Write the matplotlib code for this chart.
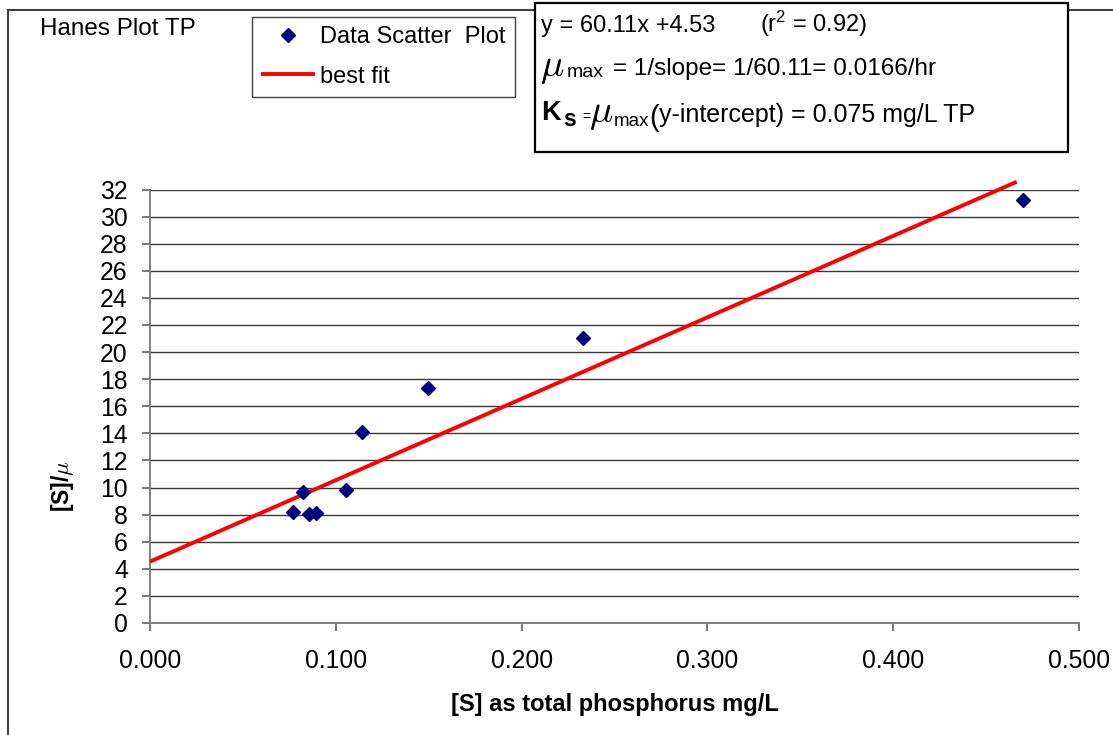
import matplotlib
matplotlib.use("Agg")
import matplotlib.pyplot as plt
from matplotlib.patches import Rectangle
from matplotlib.lines import Line2D

plt.rcParams['font.family'] = ['Liberation Sans', 'DejaVu Sans']
plt.rcParams['mathtext.fontset'] = 'custom'
plt.rcParams['mathtext.rm'] = 'Liberation Sans'
plt.rcParams['mathtext.it'] = 'Liberation Sans:italic'
plt.rcParams['mathtext.bf'] = 'Liberation Sans:bold'

# Hanes linearisation for total phosphorus: [S] vs [S]/mu
s_tp = [0.0771, 0.0825, 0.0857, 0.0893, 0.1053, 0.1139, 0.1495, 0.2330, 0.4700]
s_over_mu = [8.16, 9.68, 8.04, 8.13, 9.81, 14.11, 17.35, 21.02, 31.19]

# least-squares line reported for the data
slope = 60.11
intercept = 4.53
r_squared = 0.92
fit_x = [0.0, 0.4665]

mu_max = 1.0 / slope
k_s = mu_max * intercept

x_ticks = [0.0, 0.1, 0.2, 0.3, 0.4, 0.5]
x_tick_labels = ['0.000', '0.100', '0.200', '0.300', '0.400', '0.500']
y_ticks = list(range(0, 33, 2))

W, H = 1113, 735
fig = plt.figure(figsize=(W / 100, H / 100), dpi=100)


def fx(px):
    return px / W


def fy(py):
    return 1 - py / H


ax = fig.add_axes([fx(150), fy(623), fx(1079) - fx(150), fy(189.5) - fy(623)])

fit_y = [slope * x + intercept for x in fit_x]
fit_line, = ax.plot(fit_x, fit_y, color='#ff0000', lw=2.8, clip_on=False,
                    zorder=3, solid_capstyle='butt', label='best fit')
pts, = ax.plot(s_tp, s_over_mu, linestyle='none', marker='D', ms=7.6,
               color='#000080', mec='#000080', zorder=4, clip_on=False,
               label='Data Scatter  Plot')

ax.set_xlim(0, 0.5)
ax.set_ylim(0, 32)
ax.set_xticks(x_ticks, x_tick_labels)
ax.set_yticks(y_ticks)
ax.grid(axis='y', color='#383838', lw=1.0)
ax.grid(axis='x', visible=False)
ax.set_axisbelow(True)
for side in ('top', 'right'):
    ax.spines[side].set_visible(False)
for side in ('left', 'bottom'):
    ax.spines[side].set_color('#808080')
    ax.spines[side].set_linewidth(1.4)
ax.tick_params(axis='both', direction='out', length=6, width=1.2,
               color='#606060', labelsize=17.8)
ax.tick_params(axis='x', pad=13)
ax.tick_params(axis='y', pad=10)

# outer chart frame
fig.add_artist(Line2D([fx(8), fx(8)], [0, fy(10)], transform=fig.transFigure,
                      color='#404040', lw=1.5))
fig.add_artist(Line2D([fx(8), 1], [fy(10), fy(10)], transform=fig.transFigure,
                      color='#404040', lw=1.5))

fig.text(fx(40), fy(35), 'Hanes Plot TP', fontsize=17.5, va='baseline')

leg = fig.legend(handles=[pts, fit_line], loc='upper left',
                 bbox_to_anchor=(fx(251.7), fy(16.7)), fontsize=17,
                 frameon=True, fancybox=False, framealpha=1,
                 edgecolor='#404040', handlelength=2.3, handletextpad=0.18,
                 borderpad=0.4, labelspacing=0.74, borderaxespad=0)
leg.get_frame().set_linewidth(1.0)

# equation box
fig.add_artist(Rectangle((fx(535), fy(152)), fx(1068) - fx(535), fy(3) - fy(152),
                         transform=fig.transFigure, facecolor='white',
                         edgecolor='black', lw=1.6, zorder=5))

tk = dict(va='baseline', zorder=6)
fig.text(fx(541), fy(32), f'y = {slope:.2f}x +{intercept:.2f}', fontsize=17, **tk)
fig.text(fx(760), fy(32), f'(r$^2$ = {r_squared:.2f})', fontsize=17, **tk)

fig.text(fx(540), fy(76), r'$\mu$', fontsize=28, math_fontfamily='cm', **tk)
fig.text(fx(567), fy(77), 'max', fontsize=14, **tk)
fig.text(fx(613), fy(75), f'= 1/slope= 1/{slope:.2f}= {mu_max:.4f}/hr', fontsize=17.5, **tk)

fig.text(fx(541.5), fy(120.5), 'K', fontsize=19.5, fontweight='bold', **tk)
fig.text(fx(563), fy(126), 's', fontsize=16.5, fontweight='bold', **tk)
fig.text(fx(582), fy(121), '=', fontsize=10, **tk)
fig.text(fx(589), fy(122.5), r'$\mu$', fontsize=28, math_fontfamily='cm', **tk)
fig.text(fx(614), fy(126.5), 'max', fontsize=13.5, **tk)
fig.text(fx(649.5), fy(125.5), '(', fontsize=21, **tk)
fig.text(fx(659), fy(122.3), f'y-intercept) = {k_s:.3f} mg/L TP', fontsize=18, **tk)

# axis titles
fig.text(fx(69), fy(511.7), r'[S]/$\mu$', fontsize=16.5, fontweight='bold',
         rotation=90, rotation_mode='anchor', ha='left', va='baseline',
         math_fontfamily='cm')
fig.text(fx(615), fy(705), '[S] as total phosphorus mg/L', fontsize=17,
         fontweight='bold', ha='center', va='center')

fig.savefig('out.png', dpi=100)
